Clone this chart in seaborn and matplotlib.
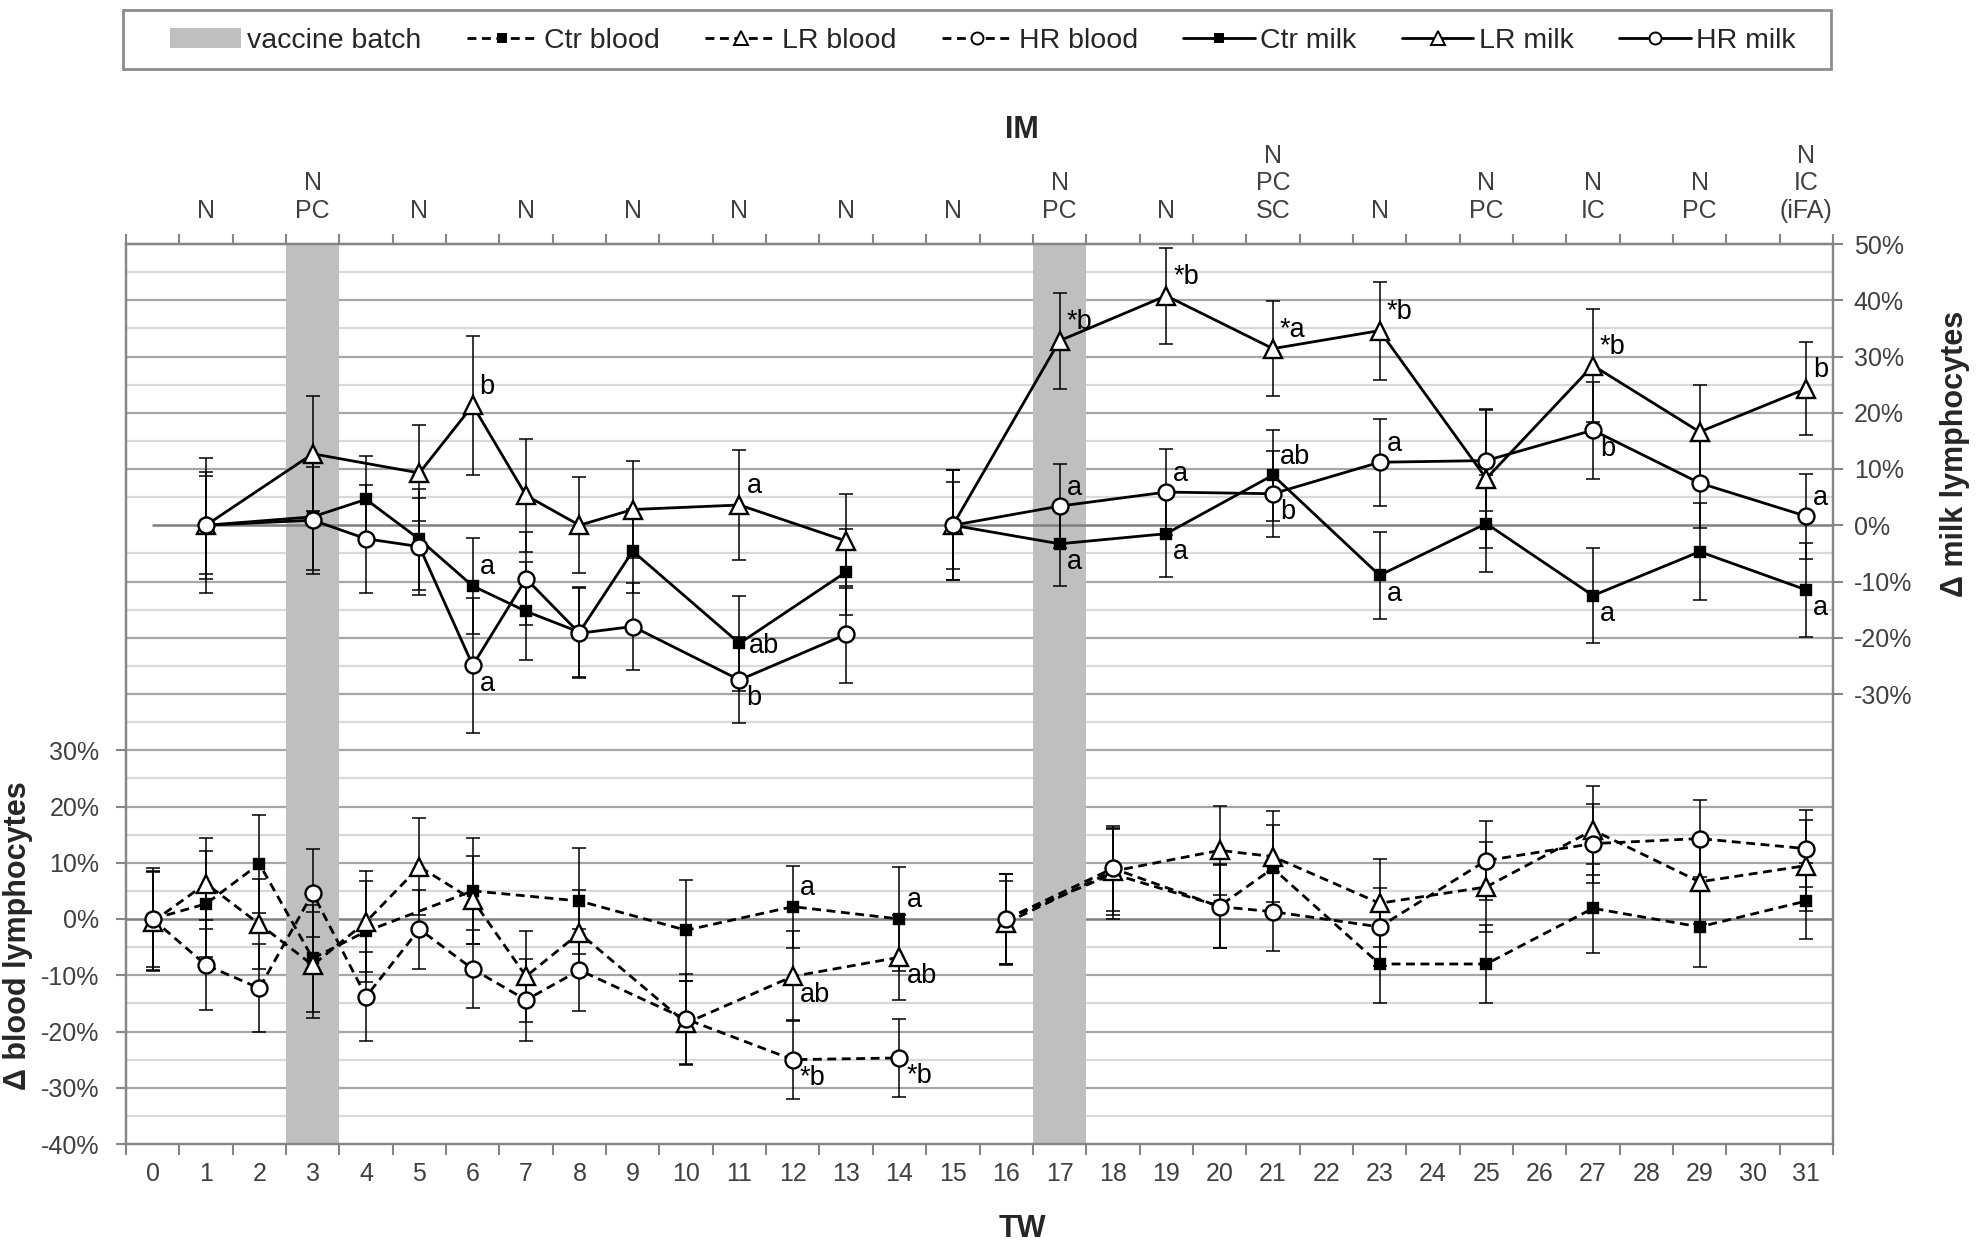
import numpy as np
import pandas as pd
import seaborn as sns
import matplotlib.pyplot as plt
from matplotlib.lines import Line2D
from matplotlib.patches import Patch, Rectangle
from matplotlib.ticker import FixedLocator, FuncFormatter

nan = np.nan

# x axis: weeks (TW) and immunisation labels (IM) on top
weeks = list(range(32))
im_weeks = [1, 3, 5, 7, 9, 11, 13, 15, 17, 19, 21, 23, 25, 27, 29, 31]
im_labels = ["N", "N\nPC", "N", "N", "N", "N", "N", "N", "N\nPC", "N",
             "N\nPC\nSC", "N", "N\nPC", "N\nIC", "N\nPC", "N\nIC\n(iFA)"]
vaccine_weeks = [3, 17]

# milk (right axis), values in %
milk_weeks = [1, 3, 4, 5, 6, 7, 8, 9, 11, 13, 15, 17, 19, 21, 23, 25, 27, 29, 31]
ctr_milk = [0, 1.5, 4.6, -2.5, -10.8, -15.3, -19.0, -4.6, -21.0, -8.3,
            0, -3.3, -1.5, 8.9, -8.9, 0.3, -12.5, -4.7, -11.5]
ctr_milk_err = [9.5, 9.5, 7.7, 9.0, 8.5, 8.7, 8.0, 7.5, 8.4, 7.7,
                9.8, 7.5, 7.7, 8.1, 7.7, 8.6, 8.4, 8.6, 8.3]
lr_milk = [0, 12.7, nan, 9.3, 21.3, 5.3, 0.0, 2.8, 3.6, -2.8,
           0, 32.8, 40.8, 31.4, 34.6, 8.3, 28.4, 16.6, 24.3]
lr_milk_err = [12.0, 10.2, nan, 8.6, 12.3, 10.0, 8.5, 8.6, 9.7, 8.3,
               7.7, 8.5, 8.5, 8.4, 8.7, 12.4, 10.0, 8.3, 8.2]
hr_milk = [0, 0.9, -2.4, -3.8, -24.9, -9.5, -19.2, -18.0, -27.5, -19.4,
           0, 3.4, 5.9, 5.6, 11.2, 11.5, 16.9, 7.5, 1.6]
hr_milk_err = [8.7, 9.5, 9.6, 8.6, 12.0, 8.3, 8.0, 7.7, 7.7, 8.6,
               9.8, 7.5, 7.7, 7.6, 7.7, 9.0, 8.6, 8.0, 7.6]

# blood (left axis), values in %
blood_weeks = [0, 1, 2, 3, 4, 5, 6, 7, 8, 10, 12, 14, 16, 18, 20, 21, 23, 25, 27, 29, 31]
ctr_blood = [0, 2.7, 9.8, -7.0, -2.2, nan, 5.0, nan, 3.2, -2.0, 2.2, 0.0,
             0, 8.0, 2.3, 9.0, -8.0, -8.0, 1.9, -1.4, 3.2]
ctr_blood_err = [9.0, 9.4, 8.7, 9.5, 9.0, nan, 9.4, nan, 9.5, 9.0, 7.3, 9.3,
                 8.0, 8.0, 7.5, 7.7, 7.0, 7.0, 7.9, 7.2, 6.8]
lr_blood = [-0.5, 6.3, -0.9, -8.2, -0.5, 9.3, 3.4, -10.2, -2.5, -18.5, -10.2, -6.8,
            -0.7, 8.5, 12.2, 11.1, 2.8, 5.7, 15.8, 6.6, 9.5]
lr_blood_err = [8.8, 8.1, 8.0, 9.4, 9.0, 8.6, 7.8, 8.1, 7.6, 7.5, 8.0, 7.6,
                7.5, 7.7, 7.9, 8.1, 7.8, 8.0, 7.9, 7.5, 8.1]
hr_blood = [0, -8.2, -12.3, 4.6, -13.8, -1.8, -8.9, -14.4, -9.1, -17.8, -25.0, -24.7,
            0, 9.0, 2.2, 1.3, -1.4, 10.4, 13.4, 14.3, 12.5]
hr_blood_err = [8.5, 8.0, 7.8, 7.8, 7.9, 7.0, 7.0, 7.3, 7.3, 8.0, 7.0, 7.0,
                8.0, 7.5, 7.4, 7.0, 7.0, 7.0, 7.0, 6.8, 6.8]

# significance letters: (week, series, text, placement)
milk_notes = [(6, "LR", "b", "up"), (6, "Ctr", "a", "up"), (6, "HR", "a", "down"),
              (11, "LR", "a", "up"), (11, "Ctr", "ab", "right"), (11, "HR", "b", "down"),
              (17, "LR", "*b", "up"), (17, "HR", "a", "up"), (17, "Ctr", "a", "down"),
              (19, "LR", "*b", "up"), (19, "HR", "a", "up"), (19, "Ctr", "a", "down"),
              (21, "LR", "*a", "up"), (21, "Ctr", "ab", "up"), (21, "HR", "b", "down"),
              (23, "LR", "*b", "up"), (23, "HR", "a", "up"), (23, "Ctr", "a", "down"),
              (27, "LR", "*b", "up"), (27, "HR", "b", "down"), (27, "Ctr", "a", "down"),
              (31, "LR", "b", "up"), (31, "HR", "a", "up"), (31, "Ctr", "a", "down")]
blood_notes = [(12, "Ctr", "a", "up"), (14, "Ctr", "a", "up"),
               (12, "LR", "ab", "down"), (14, "LR", "ab", "down"),
               (12, "HR", "*b", "down"), (14, "HR", "*b", "down")]

sns.set_theme(style="white")
plt.rcParams["font.family"] = ["Liberation Sans", "DejaVu Sans"]

GRID_DARK = "#a6a6a6"
GRID_LIGHT = "#d9d9d9"
AXIS_GREY = "#868686"
TXT_GREY = "#404040"

markers = {
    "Ctr": dict(marker="s", markersize=7.5, markerfacecolor="black"),
    "LR": dict(marker="^", markersize=12.5, markerfacecolor="white"),
    "HR": dict(marker="o", markersize=11.5, markerfacecolor="white"),
}
dashed = (0, (3.2, 2.0))


def series_frame(x, y, err):
    d = pd.DataFrame({"TW": x, "value": y, "err": err})
    d["seg"] = (d["TW"] > 14).astype(int)
    return d.dropna().reset_index(drop=True)


fig = plt.figure(figsize=(19.76, 12.51), dpi=100)
ax = fig.add_axes([126 / 1976, 1 - 1144 / 1251, (1833 - 126) / 1976, (1144 - 244) / 1251])
ax2 = ax.twinx()
ax2.patch.set_visible(False)

# background grid (every 5 %), vaccine bands
for v in range(-35, 120, 5):
    if v in (0, 70):
        continue
    ax.axhline(v, color=GRID_DARK if v % 10 == 0 else GRID_LIGHT, lw=1.6, zorder=0.2)
ax.axhline(0, color="#7f7f7f", lw=1.8, zorder=0.3)
for w in vaccine_weeks:
    ax.axvspan(w - 0.5, w + 0.5, color="#bfbfbf", lw=0, zorder=0.5)
ax2.axhline(0, xmin=0.5 / 32, xmax=1, color="#7f7f7f", lw=1.8, zorder=0.3)

blood = {"Ctr": (ctr_blood, ctr_blood_err), "LR": (lr_blood, lr_blood_err),
         "HR": (hr_blood, hr_blood_err)}
milk = {"Ctr": (ctr_milk, ctr_milk_err), "LR": (lr_milk, lr_milk_err),
        "HR": (hr_milk, hr_milk_err)}

frames = {}
for axis, weeks_, data, ls, kind in [(ax, blood_weeks, blood, dashed, "blood"),
                                      (ax2, milk_weeks, milk, "-", "milk")]:
    for name, (vals, errs) in data.items():
        d = series_frame(weeks_, vals, errs)
        frames[(kind, name)] = d
        axis.errorbar(d["TW"], d["value"], yerr=d["err"], fmt="none", ecolor="black",
                      elinewidth=1.1, capsize=5, capthick=1.1, zorder=1.5)
        sns.lineplot(data=d, x="TW", y="value", units="seg", estimator=None, ax=axis,
                     color="black", linewidth=2.0, linestyle=ls,
                     markeredgecolor="black", markeredgewidth=1.7, zorder=2,
                     legend=False, **markers[name])

offsets = {"up": ((5, 4), "left", "bottom"), "down": ((5, -4), "left", "top"),
           "right": ((7, -2), "left", "center")}
for axis, notes, kind in [(ax, blood_notes, "blood"), (ax2, milk_notes, "milk")]:
    for wk, name, txt, where in notes:
        d = frames[(kind, name)]
        val = d.loc[d["TW"] == wk, "value"].iloc[0]
        off, ha, va = offsets[where]
        axis.annotate(txt, (wk, val), xytext=off, textcoords="offset points",
                      ha=ha, va=va, fontsize=19.5, color="black", zorder=5)

# axes limits and ticks
ax.set_xlim(-0.5, 31.5)
ax.set_ylim(-40, 120)
ax2.set_ylim(-110, 50)
pct = FuncFormatter(lambda v, p: f"{v:.0f}%")
ax.set_yticks(range(-40, 31, 10))
ax2.set_yticks(range(-30, 51, 10))
ax.yaxis.set_major_formatter(pct)
ax2.yaxis.set_major_formatter(pct)
ax.set_xticks(weeks)
ax.xaxis.set_minor_locator(FixedLocator(np.arange(-0.5, 32, 1)))

ax.tick_params(axis="y", length=7, width=1.5, color=AXIS_GREY, pad=12,
               labelsize=18, labelcolor=TXT_GREY, left=True)
ax2.tick_params(axis="y", length=7, width=1.5, color=AXIS_GREY, pad=8,
                labelsize=18, labelcolor=TXT_GREY, right=True)
ax.tick_params(axis="x", which="major", length=0, pad=13, labelsize=18,
               labelcolor=TXT_GREY, bottom=True)
ax.tick_params(axis="x", which="minor", length=8, width=1.5, color=AXIS_GREY, bottom=True)

top = ax.secondary_xaxis("top")
top.set_xticks(im_weeks, labels=im_labels)
top.xaxis.set_minor_locator(FixedLocator(np.arange(-0.5, 32, 1)))
top.tick_params(which="major", length=0, pad=15, labelsize=18, labelcolor=TXT_GREY)
top.tick_params(which="minor", length=7, width=1.5, color=AXIS_GREY, top=True)
top.set_xlabel("IM", fontsize=22, fontweight="bold", labelpad=4)
top.xaxis.label.set_x(0.525)
top.spines["top"].set_color(AXIS_GREY)
top.spines["top"].set_linewidth(1.6)

for a in (ax, ax2):
    for s in a.spines.values():
        s.set_color(AXIS_GREY)
        s.set_linewidth(1.6)

ax.set_xlabel("TW", fontsize=22, fontweight="bold", labelpad=20)
ax.xaxis.label.set_x(0.525)
ax.set_ylabel("Δ blood lymphocytes", fontsize=22, fontweight="bold")
ax.yaxis.set_label_coords(-0.0545, 0.231)
ax2.set_ylabel("Δ milk lymphocytes", fontsize=22, fontweight="bold")
ax2.yaxis.set_label_coords(1.0627, 0.767)

# legend with a separate frame box
fig.patches.append(Rectangle((123 / 1976, 1 - 69 / 1251), 1708 / 1976, 59 / 1251,
                             transform=fig.transFigure, facecolor="white",
                             edgecolor="#8c8c8c", lw=2.0, zorder=0))
handles = [Patch(facecolor="#bfbfbf", edgecolor="none", label="vaccine batch")]
for kind, ls in [("blood", dashed), ("milk", "-")]:
    for name in ["Ctr", "LR", "HR"]:
        handles.append(Line2D([], [], color="black", lw=2.0, linestyle=ls,
                              markeredgecolor="black", markeredgewidth=1.4,
                              label=f"{name} {kind}",
                              **{k: (v * 0.75 if k == "markersize" else v)
                                 for k, v in markers[name].items()}))
leg = fig.legend(handles=handles, loc="center", ncol=7,
                 bbox_to_anchor=(0.4975, 1 - 41 / 1251),
                 fontsize=20.5, frameon=False, handlelength=2.5,
                 handletextpad=0.2, columnspacing=1.6, borderaxespad=0)

fig.savefig("out.png", dpi=100)
